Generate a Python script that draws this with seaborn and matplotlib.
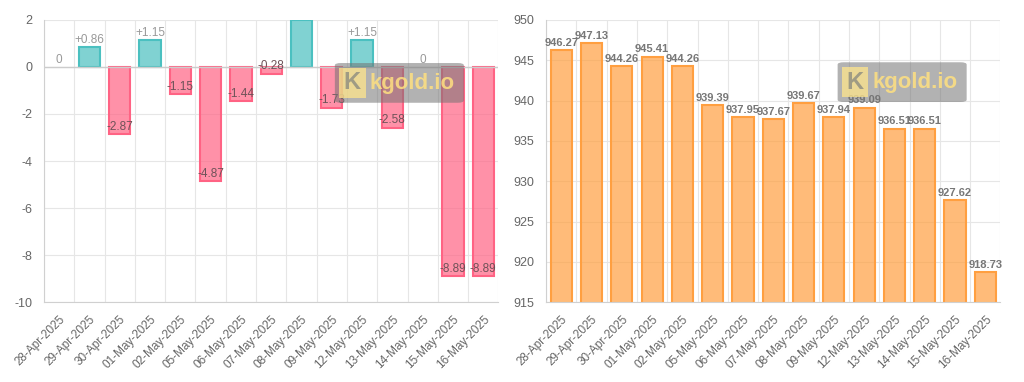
import numpy as np
import pandas as pd
import seaborn as sns
from matplotlib import pyplot as plt
from matplotlib.colors import to_rgba
from matplotlib.patches import FancyBboxPatch

dates = ["28-Apr-2025", "29-Apr-2025", "30-Apr-2025", "01-May-2025", "02-May-2025",
         "05-May-2025", "06-May-2025", "07-May-2025", "08-May-2025", "09-May-2025",
         "12-May-2025", "13-May-2025", "14-May-2025", "15-May-2025", "16-May-2025"]
change = [0, 0.86, -2.87, 1.15, -1.15, -4.87, -1.44, -0.28, 2.00, -1.73,
          1.15, -2.58, 0, -8.89, -8.89]
price = [946.27, 947.13, 944.26, 945.41, 944.26, 939.39, 937.95, 937.67, 939.67,
         937.94, 939.09, 936.51, 936.51, 927.62, 918.73]

TEAL = "#4bc0c0"
PINK = "#ff6384"
ORANGE = "#ff9f40"
TXT = "#666666"
GRID = "#e6e6e6"


def style_axis(ax, ylim, yticks):
    n = len(dates)
    ax.set_xlim(-0.5, n - 0.5)
    ax.set(ylim=ylim, yticks=yticks, xlabel="", ylabel="")
    ax.set_xticks(range(n))
    ax.set_xticklabels(dates, rotation=45, ha="right", rotation_mode="anchor",
                       fontsize=8.5, color=TXT)
    ax.set_xticks(np.arange(-0.5, n, 1), minor=True)
    ax.tick_params(axis="x", which="major", length=0, pad=8)
    ax.tick_params(axis="x", which="minor", length=5, color=GRID)
    ax.tick_params(axis="y", labelsize=9, labelcolor=TXT, length=5, color=GRID)
    ax.grid(axis="x", which="minor", color=GRID, lw=0.8)
    ax.grid(axis="y", which="major", color=GRID, lw=0.8)
    ax.grid(axis="x", which="major", visible=False)
    ax.set_axisbelow(True)
    for s in ["top", "right"]:
        ax.spines[s].set_visible(False)
    for s in ["left", "bottom"]:
        ax.spines[s].set_color("#d0d0d0")


def watermark(fig, x, y):
    w, h = 0.126, 0.104
    fig.patches.append(FancyBboxPatch((x, y), w, h, boxstyle="round,pad=0,rounding_size=0.006",
                                      transform=fig.transFigure, fc=(0.45, 0.45, 0.45, 0.55),
                                      ec="none", zorder=10))
    fig.patches.append(FancyBboxPatch((x + 0.004, y + 0.012), 0.026, 0.08,
                                      boxstyle="square,pad=0", transform=fig.transFigure,
                                      fc=(1, 0.9, 0.55, 0.75), ec="none", zorder=11))
    fig.text(x + 0.017, y + 0.052, "K", transform=fig.transFigure, fontsize=17,
             fontweight="bold", color=(0.55, 0.55, 0.5, 0.8), ha="center", va="center",
             zorder=12)
    fig.text(x + 0.034, y + 0.05, "kgold.io", transform=fig.transFigure, fontsize=16,
             fontweight="bold", color=(1, 0.88, 0.5, 0.85), ha="left", va="center", zorder=12)


sns.set_style("white")
plt.rcParams["font.family"] = ["Liberation Sans", "DejaVu Sans"]
plt.rcParams["axes.unicode_minus"] = False
fig, axes = plt.subplots(1, 2, figsize=(10.24, 3.82), dpi=100)
fig.subplots_adjust(left=0.043, right=0.977, top=0.948, bottom=0.209, wspace=0.105)

# left: daily change
df1 = pd.DataFrame({"date": dates, "change": change})
df1["dir"] = np.where(df1["change"] >= 0, "up", "down")
ax = axes[0]
sns.barplot(df1, x="date", y="change", hue="dir", dodge=False, legend=False,
            palette={"up": to_rgba(TEAL, 0.7), "down": to_rgba(PINK, 0.7)},
            width=0.7, ax=ax, saturation=1, linewidth=1.5)
for p in ax.patches:
    fc = p.get_facecolor()
    p.set_edgecolor(TEAL if fc[1] > 0.6 else PINK)
    if p.get_height() == 0:
        p.set_linewidth(0)
style_axis(ax, (-10, 2), np.arange(-10, 3, 2))
ax.axhline(0, color="#cccccc", lw=1, zorder=1)
for i, v in enumerate(change):
    if v > 0:
        lab, col = f"+{v:.2f}", "#999999"
    elif v < 0:
        lab, col = f"{v:.2f}", "#6e5258"
    else:
        lab, col = "0", "#999999"
    ax.text(i, v + 0.05, lab, ha="center", va="bottom",
            fontsize=8.5, color=col, clip_on=True, zorder=5)

# right: price
df2 = pd.DataFrame({"date": dates, "price": price})
ax = axes[1]
sns.barplot(df2, x="date", y="price", color=to_rgba(ORANGE, 0.7), width=0.7, ax=ax,
            saturation=1, linewidth=1.5, edgecolor=ORANGE)
style_axis(ax, (915, 950), np.arange(915, 951, 5))
for i, v in enumerate(price):
    ax.text(i, v + 0.3, f"{v:.2f}", ha="center", va="bottom", fontsize=8,
            fontweight="bold", color="#777777", zorder=5)

watermark(fig, 0.327, 0.731)
watermark(fig, 0.818, 0.733)

fig.savefig("out.png", dpi=100)
